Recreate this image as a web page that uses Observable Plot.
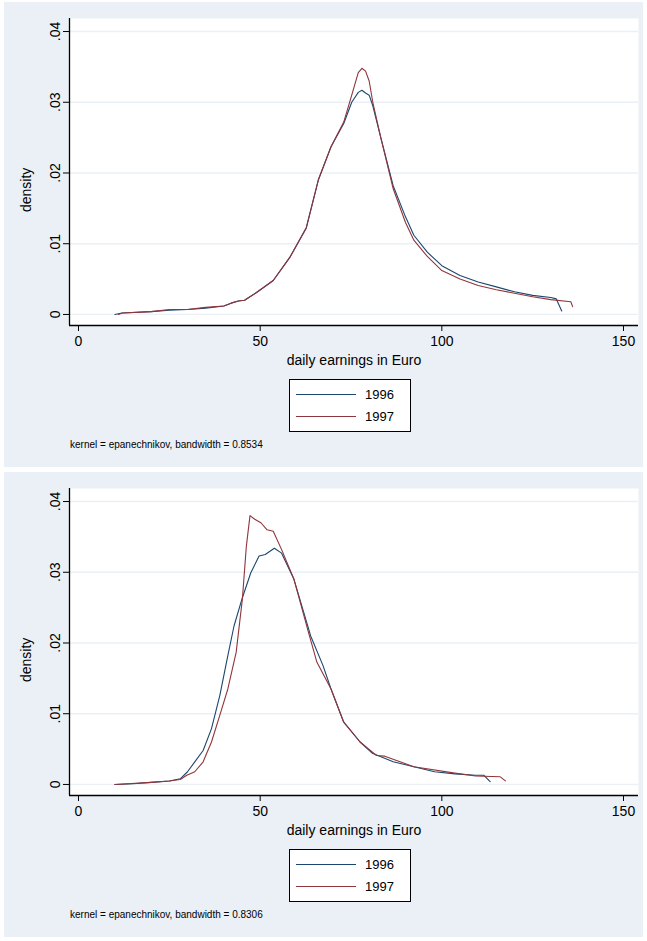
<!DOCTYPE html>
<html>
<head>
<meta charset="utf-8">
<script src="https://cdn.jsdelivr.net/npm/d3@7"></script>
<script src="https://cdn.jsdelivr.net/npm/@observablehq/plot@0.6"></script>
<style>
  body { margin: 0; background: #fff; font-family: "Liberation Sans", Arial, sans-serif; }
  .panel { position: absolute; left: 4px; width: 639px; height: 465px; background: #eaf0f6; }
  .legend { position: absolute; left: 285px; width: 120px; height: 51px; border: 1px solid #000; background: #fff; font-size: 13px; }
  .legend div { display: flex; align-items: center; height: 22px; margin-left: 6px; }
  .legend span.l { display: inline-block; width: 60px; height: 0; border-top: 1.3px solid; margin-right: 9px; }
  .note { position: absolute; left: 66px; font-size: 10px; }
  .xlab { position: absolute; left: 0; width: 700px; text-align: center; font-size: 14px; }
  .ylab { position: absolute; left: 14px; font-size: 14px; transform: rotate(-90deg); transform-origin: left top; }
</style>
</head>
<body>
<div id="p1" class="panel" style="top:2px"></div>
<div id="p2" class="panel" style="top:472px"></div>
<script>
const xTicks = [0, 50, 100, 150]
const yTicks = [0, 0.01, 0.02, 0.03, 0.04]
const years = ["1996", "1997"]
const colors = ["#1a476f", "#90353b"]

// top panel
const a96x = [10,12,20,25,30,35,40,42,44,45.7,49,53.6,58.2,62.7,66,69.5,73,75.2,77,78,79,80,81,83.2,86.6,90,92.3,96,100,105,110,115,120,125,130,131.5,133]
const a96y = [0,0.0002,0.0004,0.0006,0.0007,0.0009,0.0012,0.0016,0.0019,0.002,0.0031,0.0048,0.0081,0.0123,0.019,0.0237,0.027,0.03,0.0314,0.0317,0.0313,0.031,0.0295,0.025,0.0182,0.0138,0.0112,0.0088,0.0069,0.0055,0.0046,0.0039,0.0032,0.0027,0.0024,0.0022,0.0005]
const a97x = [11,12,20,25,30,35,40,42,44,45.7,49,53.6,58.2,62.7,66,69.5,73,75.2,77,78,79,80,81,83.2,86.6,90,92.3,96,100,105,110,115,120,125,130,135.5,136]
const a97y = [0,0.0002,0.0004,0.0007,0.0007,0.0010,0.0012,0.0016,0.0019,0.002,0.0031,0.0048,0.0081,0.0122,0.019,0.0237,0.0272,0.031,0.0342,0.0348,0.0344,0.033,0.03,0.025,0.0178,0.013,0.0105,0.0082,0.0062,0.005,0.0041,0.0035,0.003,0.0025,0.0021,0.0018,0.0011]

// bottom panel
const b96x = [10,15,20,25,28,30,32,34.3,36.6,38.9,41.1,42.8,45.1,47.4,49.7,51.4,53.9,55.9,59.3,63.9,67.3,69.5,73,77.5,80.9,86.6,92.3,98,103.6,109.3,111.6,113.3]
const b96y = [0,0.0001,0.0003,0.0005,0.0008,0.0018,0.0032,0.0048,0.0079,0.0126,0.0182,0.0224,0.0264,0.0299,0.0323,0.0325,0.0334,0.0327,0.029,0.021,0.0168,0.0135,0.0088,0.006,0.0044,0.0032,0.0025,0.0018,0.0015,0.0013,0.0013,0.0004]
const b97x = [10,20,25,28,29.8,32,34.3,36.6,38.9,41.1,43.4,45.1,46.2,47.2,48.5,50.2,51.9,53.6,55.9,59.3,63.3,65.6,69.5,73,77.5,82,84.3,92.3,103.6,109.3,116,117.5]
const b97y = [0,0.0003,0.0005,0.0007,0.0013,0.0018,0.0032,0.006,0.0098,0.0135,0.0187,0.0262,0.0337,0.038,0.0375,0.037,0.036,0.0358,0.0332,0.029,0.0215,0.0173,0.0135,0.0088,0.006,0.0041,0.004,0.0025,0.0016,0.0012,0.0011,0.0005]

const xDom = [-2.48, 154.13]
const yDom = [-0.00156, 0.04184]

function rows(xs, ys, year) { return xs.map((x, i) => ({x, y: ys[i], year})) }

function panel(id, s96x, s96y, s97x, s97y, bw) {
  const data = rows(s96x, s96y, years[0]).concat(rows(s97x, s97y, years[1]))
  const chart = Plot.plot({
    width: 639, height: 368,
    marginLeft: 65, marginRight: 5, marginTop: 16, marginBottom: 45,
    style: {fontFamily: "Liberation Sans, Arial, sans-serif", background: "transparent", color: "#000"},
    x: {domain: xDom},
    y: {domain: yDom},
    color: {domain: years, range: colors},
    marks: [
      Plot.frame({fill: "white", stroke: null}),
      Plot.gridY(yTicks, {stroke: "#eaf0f6", strokeOpacity: 1, strokeWidth: 1.3}),
      Plot.axisX(xTicks, {tickSize: 6, tickPadding: 5, fontSize: 14, label: null}),
      Plot.axisY(yTicks, {tickSize: 6, tickPadding: 4, tickRotate: -90, fontSize: 14, label: null,
        tickFormat: d => d === 0 ? "0" : d3.format(".2f")(d).replace("0.", ".")}),
      Plot.ruleX([xDom[0]], {stroke: "#000", strokeWidth: 1.3}),
      Plot.ruleY([yDom[0]], {stroke: "#000", strokeWidth: 1.3}),
      Plot.line(data, {x: "x", y: "y", z: "year", stroke: "year", strokeWidth: 1.1})
    ]
  })
  const el = document.getElementById(id)
  el.append(chart)
  chart.style.position = "absolute"; chart.style.top = "0"; chart.style.left = "0"
  const xl = document.createElement("div")
  xl.className = "xlab"; xl.style.top = "350px"; xl.textContent = "daily earnings in Euro"
  el.append(xl)
  const yl = document.createElement("div")
  yl.className = "ylab"; yl.style.top = "210px"; yl.textContent = "density"
  el.append(yl)
  const leg = document.createElement("div")
  leg.className = "legend"; leg.style.top = "377px"
  leg.innerHTML = years.map((y, i) => `<div><span class="l" style="border-color:${colors[i]}"></span>${y}</div>`).join("")
  leg.firstChild.style.marginTop = "3px"
  el.append(leg)
  const note = document.createElement("div")
  note.className = "note"; note.style.top = "437px"
  note.textContent = "kernel = epanechnikov, bandwidth = " + bw
  el.append(note)
}

panel("p1", a96x, a96y, a97x, a97y, "0.8534")
panel("p2", b96x, b96y, b97x, b97y, "0.8306")
</script>
</body>
</html>
